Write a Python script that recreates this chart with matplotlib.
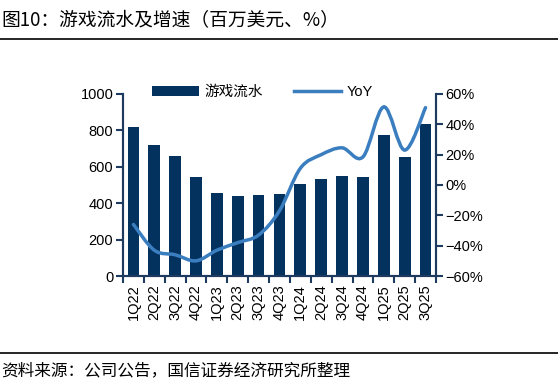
import matplotlib
matplotlib.use('Agg')
import matplotlib.pyplot as plt
from matplotlib.path import Path
from matplotlib.patches import PathPatch
from matplotlib.ticker import FuncFormatter, MultipleLocator
import numpy as np

plt.rcParams['font.family'] = ['Liberation Sans', 'Noto Sans CJK SC', 'DejaVu Sans']
plt.rcParams['axes.unicode_minus'] = True

quarters = ['1Q22', '2Q22', '3Q22', '4Q22', '1Q23', '2Q23', '3Q23', '4Q23',
            '1Q24', '2Q24', '3Q24', '4Q24', '1Q25', '2Q25', '3Q25']
revenue = [820, 718, 662, 542, 458, 442, 443, 452, 507, 535, 550, 542, 772, 656, 836]
yoy = [-26, -43, -46, -50, -43, -38, -33, -17, 11, 20, 24.5, 18.5, 51.5, 23, 51]

bar_color = '#04325F'
line_color = '#3A7EBF'
spine_color = '#1F3A5F'

fig = plt.figure(figsize=(5.58, 3.9), dpi=100)
ax = fig.add_axes([0.2204, 0.2923, 0.5609, 0.4667])
ax2 = ax.twinx()

x = np.arange(len(quarters))
bars = ax.bar(x, revenue, width=0.56, color=bar_color, label='游戏流水', zorder=2)

# smooth line (catmull-rom drawn as bezier through the data points)
pts = np.column_stack([x, yoy]).astype(float)
verts = [tuple(pts[0])]
codes = [Path.MOVETO]
for i in range(len(pts) - 1):
    p0 = pts[i - 1] if i > 0 else pts[i]
    p1 = pts[i]
    p2 = pts[i + 1]
    p3 = pts[i + 2] if i + 2 < len(pts) else pts[i + 1]
    c1 = p1 + (p2 - p0) / 6
    c2 = p2 - (p3 - p1) / 6
    verts += [tuple(c1), tuple(c2), tuple(p2)]
    codes += [Path.CURVE4] * 3
ax2.add_patch(PathPatch(Path(verts, codes), facecolor='none', edgecolor=line_color,
                        lw=2.5, zorder=3, capstyle='round'))
line_handle, = ax2.plot([], [], color=line_color, lw=2.5, label='YoY')

ax.set_xlim(-0.5, len(quarters) - 0.5)
ax.set_ylim(0, 1000)
ax2.set_ylim(-60, 60)
ax.yaxis.set_major_locator(MultipleLocator(200))
ax2.yaxis.set_major_locator(MultipleLocator(20))
ax2.yaxis.set_major_formatter(FuncFormatter(lambda v, p: f'{v:.0f}%'.replace('-', '\u2212')))

ax.set_xticks(x)
ax.set_xticklabels(quarters, rotation=90, fontsize=10.5)
ax.set_xticks(np.arange(-0.5, len(quarters), 1), minor=True)
ax.tick_params(axis='x', which='major', length=0, pad=6)
ax.tick_params(axis='x', which='minor', length=5, width=1.5, color=spine_color, direction='out')
ax.tick_params(axis='y', length=5, width=1.5, color=spine_color, labelsize=10.5, pad=2)
ax2.tick_params(axis='y', length=5, width=1.5, color=spine_color, labelsize=10.5, pad=2)

for a in (ax, ax2):
    a.spines['top'].set_visible(False)
    for s in ('left', 'right', 'bottom'):
        a.spines[s].set_color(spine_color)
        a.spines[s].set_linewidth(1.5)

leg = ax.legend([bars, line_handle], ['游戏流水', 'YoY'], loc='upper left',
                bbox_to_anchor=(0.075, 1.08), borderaxespad=0, ncol=2, frameon=False,
                fontsize=10.5, handlelength=3.2, handleheight=0.6, columnspacing=2.1,
                handletextpad=0.4)
leg.set_zorder(5)

fig.text(0.003, 0.948, '图10：游戏流水及增速（百万美元、%）', fontsize=13.5,
         family=['Noto Sans CJK SC', 'DejaVu Sans'], va='center', ha='left')
fig.add_artist(plt.Line2D([0, 1], [0.9, 0.9], color='black', lw=1.2, transform=fig.transFigure))
fig.add_artist(plt.Line2D([0, 1], [0.095, 0.095], color='black', lw=1.2, transform=fig.transFigure))
fig.text(0.003, 0.05, '资料来源：公司公告，国信证券经济研究所整理', fontsize=12,
         family=['Noto Sans CJK SC', 'DejaVu Sans'], va='center', ha='left')

fig.savefig('out.png', dpi=100)
